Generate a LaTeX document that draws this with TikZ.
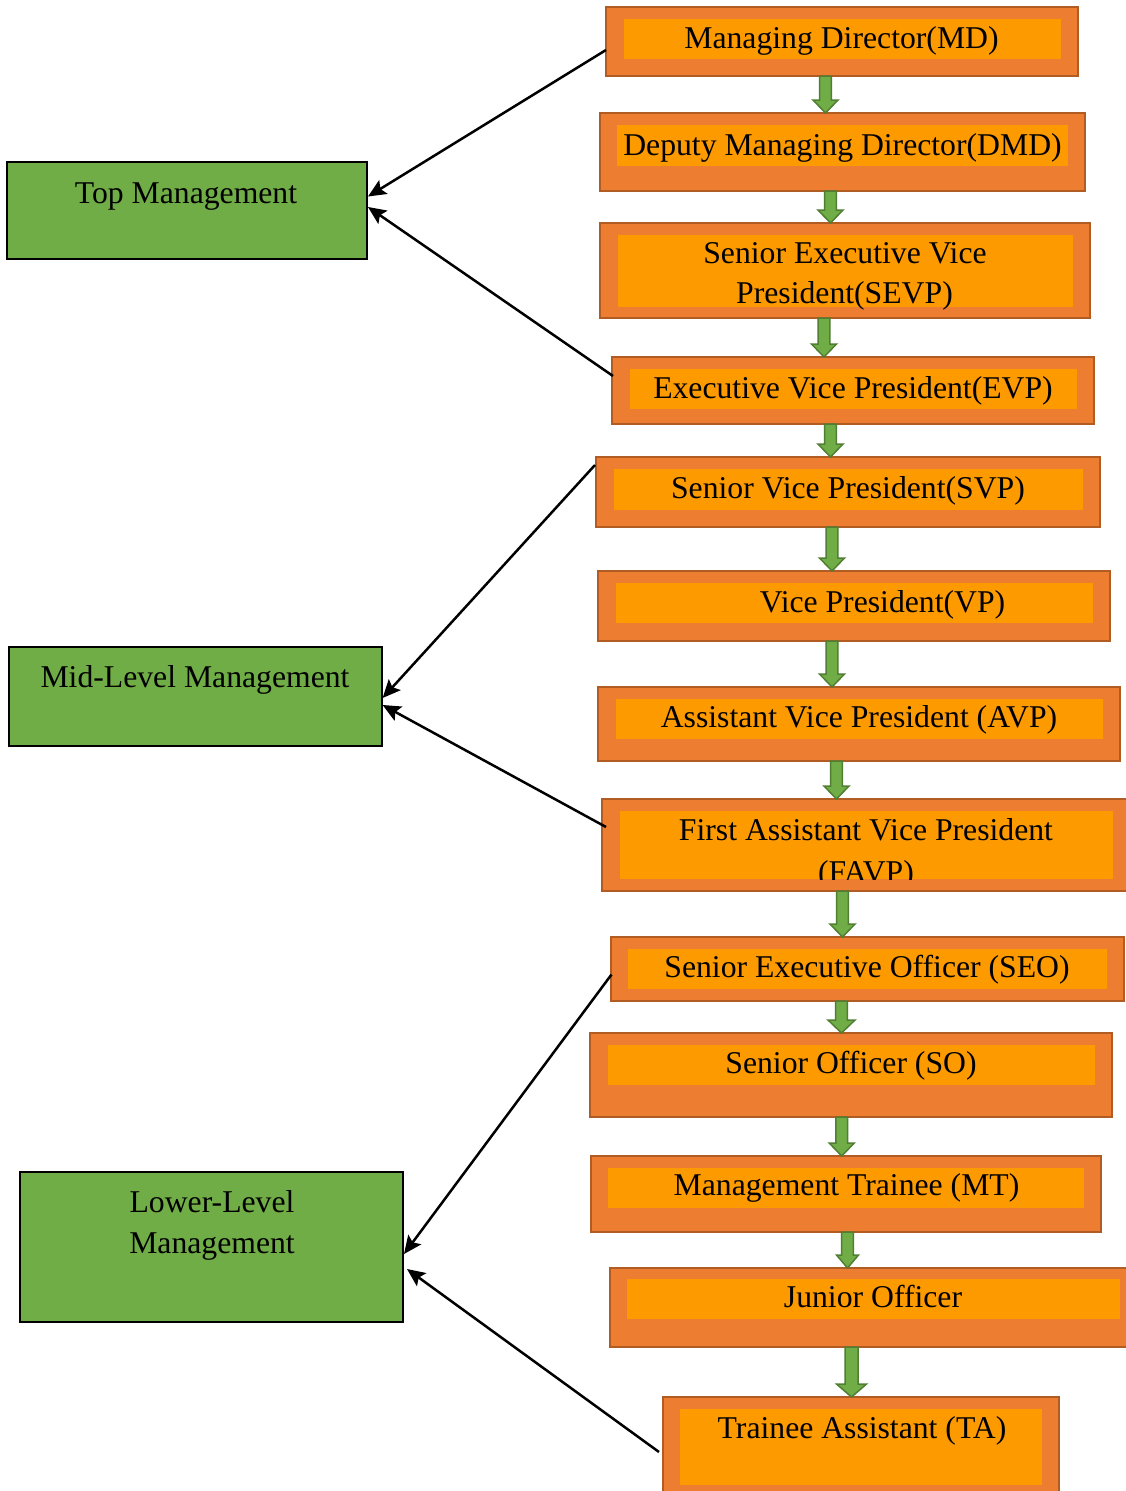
\documentclass[tikz,border=0pt]{standalone}
\usepackage{fontspec}
\setmainfont{Liberation Serif}
\usetikzlibrary{calc,arrows.meta}
\definecolor{oFill}{HTML}{ED7D31}
\definecolor{oLine}{HTML}{B05C22}
\definecolor{oInner}{HTML}{FD9A00}
\definecolor{gFill}{HTML}{70AD47}
\definecolor{gLine}{HTML}{507E32}
\tikzset{
  obox/.style={draw=oLine, fill=oFill, line width=2pt, rectangle, inner sep=0pt, outer sep=0pt, anchor=north west},
  ibox/.style={fill=oInner, rectangle, inner sep=0pt, outer sep=0pt, anchor=north west},
  mbox/.style={draw=black, fill=gFill, line width=2pt, rectangle, inner sep=0pt, outer sep=0pt, anchor=north west},
  lbl/.style={font=\fontsize{31.7}{39}\selectfont, anchor=base, inner sep=0pt, outer sep=0pt, text=black},
  gshaft/.initial=5.8, ghead/.initial=12.5, glen/.initial=13,
  garrow/.style={draw=gLine, fill=gFill, line width=1.5pt, line join=miter,
    to path={let \p1=(\tikztostart), \p2=(\tikztotarget) in
      (\x1-\pgfkeysvalueof{/tikz/gshaft}pt,\y1) --
      (\x1-\pgfkeysvalueof{/tikz/gshaft}pt,\y2+\pgfkeysvalueof{/tikz/glen}pt) --
      (\x1-\pgfkeysvalueof{/tikz/ghead}pt,\y2+\pgfkeysvalueof{/tikz/glen}pt) --
      (\x1,\y2) --
      (\x1+\pgfkeysvalueof{/tikz/ghead}pt,\y2+\pgfkeysvalueof{/tikz/glen}pt) --
      (\x1+\pgfkeysvalueof{/tikz/gshaft}pt,\y2+\pgfkeysvalueof{/tikz/glen}pt) --
      (\x1+\pgfkeysvalueof{/tikz/gshaft}pt,\y1) -- cycle}},
  link/.style={draw=black, line width=2.5pt, -{Stealth[length=18pt,width=16pt,inset=3.5pt]}}
}
\begin{document}
\begin{tikzpicture}[x=1pt,y=-1pt]
\useasboundingbox[fill=white] (0,0) rectangle (1126,1491);

% ---------- orange boxes ----------
\node[obox, minimum width=472, minimum height=69] (md) at (606,7) {};
\node[ibox, minimum width=437, minimum height=40] (mdi) at (624,19) {};
\node[lbl] (mdt) at (841.5,48) {Managing Director(MD)};

\node[obox, minimum width=485, minimum height=78] (dmd) at (600,113) {};
\node[ibox, minimum width=451, minimum height=41] (dmdi) at (617,125) {};
\node[lbl] (dmdt) at (842.5,155) {Deputy Managing Director(DMD)};

\node[obox, minimum width=490, minimum height=95] (sevp) at (600,223) {};
\node[ibox, minimum width=455, minimum height=72] (sevpi) at (618,235) {};
\node[lbl] (sevpt1) at (845,263) {Senior Executive Vice};
\node[lbl] (sevpt2) at (844.5,303) {President(SEVP)};

\node[obox, minimum width=482, minimum height=67] (evp) at (612,357) {};
\node[ibox, minimum width=447, minimum height=40] (evpi) at (630,369) {};
\node[lbl] (evpt) at (853,398) {Executive Vice President(EVP)};

\node[obox, minimum width=504, minimum height=70] (svp) at (596,457) {};
\node[ibox, minimum width=469, minimum height=41] (svpi) at (614,469) {};
\node[lbl] (svpt) at (848,498) {Senior Vice President(SVP)};

\node[obox, minimum width=512.5, minimum height=70] (vp) at (597.5,571) {};
\node[ibox, minimum width=476.5, minimum height=40] (vpi) at (616,583) {};
\node[lbl] (vpt) at (882.5,612) {Vice President(VP)};

\node[obox, minimum width=522.5, minimum height=74] (avp) at (597.5,687) {};
\node[ibox, minimum width=487, minimum height=40] (avpi) at (616,699) {};
\node[lbl] (avpt) at (859,727) {Assistant Vice President (AVP)};

\node[obox, minimum width=538, minimum height=92] (favp) at (602,799) {};
\node[ibox, minimum width=493, minimum height=68] (favpi) at (620,811) {};
\node[lbl] (favpt1) at (866,840) {First Assistant Vice President};
\begin{scope}
  \clip (favpi.north west) rectangle (favpi.south east);
  \node[lbl] (favpt2) at (866,882) {(FAVP)};
\end{scope}

\node[obox, minimum width=513.5, minimum height=64] (seo) at (610.5,937) {};
\node[ibox, minimum width=479.5, minimum height=40] (seoi) at (627.5,949) {};
\node[lbl] (seot) at (867,977) {Senior Executive Officer (SEO)};

\node[obox, minimum width=522, minimum height=84] (so) at (590,1033) {};
\node[ibox, minimum width=487, minimum height=40] (soi) at (608,1045) {};
\node[lbl] (sot) at (851,1073) {Senior Officer (SO)};

\node[obox, minimum width=510.5, minimum height=76] (mt) at (590.5,1156) {};
\node[ibox, minimum width=476, minimum height=40] (mti) at (608,1168) {};
\node[lbl] (mtt) at (846.5,1195) {Management Trainee (MT)};

\node[obox, minimum width=530.5, minimum height=79] (jo) at (609.5,1268) {};
\node[ibox, minimum width=493, minimum height=40] (joi) at (627,1279) {};
\node[lbl] (jot) at (873,1307) {Junior Officer};

\node[obox, minimum width=396, minimum height=113] (ta) at (663,1397) {};
\node[ibox, minimum width=362, minimum height=76] (tai) at (680,1409) {};
\node[lbl] (tat) at (862,1438) {Trainee Assistant (TA)};

% ---------- management boxes ----------
\node[mbox, minimum width=360, minimum height=97] (top) at (7,162) {};
\node[lbl] (topt) at (186,203) {Top Management};

\node[mbox, minimum width=372.6, minimum height=99] (mid) at (9,647) {};
\node[lbl] (midt) at (195,687) {Mid-Level Management};

\node[mbox, minimum width=382.6, minimum height=150] (low) at (20.4,1172) {};
\node[lbl] (lowt1) at (212,1212) {Lower-Level};
\node[lbl] (lowt2) at (212,1253) {Management};

% ---------- green block arrows ----------
\coordinate (c1) at (825.5,0);
\coordinate (c2) at (830.5,0);
\coordinate (c3) at (824,0);
\coordinate (c4) at (830.5,0);
\coordinate (c5) at (832,0);
\coordinate (c6) at (832,0);
\coordinate (c7) at (836.5,0);
\coordinate (c8) at (842.5,0);
\coordinate (c9) at (841.5,0);
\coordinate (c10) at (841.7,0);
\coordinate (c11) at (847.5,0);
\coordinate (c12) at (851.5,0);
\draw[garrow] (md.south -| c1) to (dmd.north -| c1);
\draw[garrow] (dmd.south -| c2) to (sevp.north -| c2);
\draw[garrow] (sevp.south -| c3) to (evp.north -| c3);
\draw[garrow] (evp.south -| c4) to (svp.north -| c4);
\draw[garrow] (svp.south -| c5) to (vp.north -| c5);
\draw[garrow] (vp.south -| c6) to (avp.north -| c6);
\draw[garrow] (avp.south -| c7) to (favp.north -| c7);
\draw[garrow] (favp.south -| c8) to (seo.north -| c8);
\draw[garrow, ghead=13.5] (seo.south -| c9) to (so.north -| c9);
\draw[garrow] (so.south -| c10) to (mt.north -| c10);
\draw[garrow, ghead=11] (mt.south -| c11) to (jo.north -| c11);
\draw[garrow, gshaft=6.5, ghead=15] (jo.south -| c12) to (ta.north -| c12);

% ---------- black connectors ----------
\draw[link] ([yshift=-8.5pt]md.west) -- ([xshift=1pt,yshift=14pt]top.east);
\draw[link] ([xshift=1pt,yshift=14.5pt]evp.west) -- ([xshift=1pt,yshift=3.5pt]top.east);
\draw[link] ([xshift=-1pt,yshift=27pt]svp.west) -- ([xshift=1pt,yshift=-1.5pt]mid.east);
\draw[link] ([xshift=4pt,yshift=18pt]favp.west) -- ([xshift=1pt,yshift=-8.5pt]mid.east);
\draw[link] ([xshift=1pt,yshift=-5.5pt]seo.west) -- ([xshift=1pt,yshift=-7pt]low.east);
\draw[link] ([xshift=-4pt,yshift=1.5pt]ta.west) -- ([xshift=4pt,yshift=-22pt]low.east);
\end{tikzpicture}
\end{document}
